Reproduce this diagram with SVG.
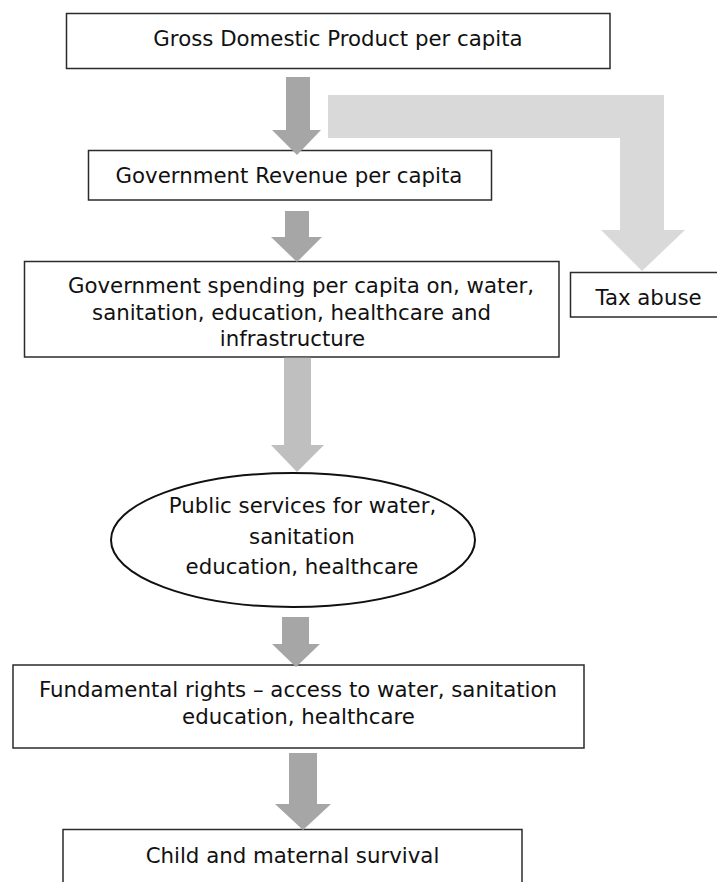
<svg xmlns="http://www.w3.org/2000/svg" width="717" height="882" viewBox="0 0 717 882">
<style>
.box{fill:#fff;stroke:#2b2b2b;stroke-width:1.5}
.t{font-family:"DejaVu Sans",Verdana,sans-serif;font-size:21.3px;fill:#111;text-anchor:middle}
.dark{fill:#a6a6a6}
.mid{fill:#bfbfbf}
.light{fill:#d9d9d9}
</style>
<rect width="717" height="882" fill="#fff"/>
<g id="gdp"><rect class="box" x="66.5" y="13.5" width="543.5" height="55"/><text class="t" x="338" y="46">Gross Domestic Product per capita</text></g>
<g id="revenue"><rect class="box" x="88.5" y="150.5" width="403" height="49.5"/><text class="t" x="289" y="183">Government Revenue per capita</text></g>
<g id="spending"><rect class="box" x="24.5" y="261.5" width="534.5" height="95.5"/><text class="t"><tspan x="301" y="293">Government spending per capita on, water,</tspan><tspan x="291.5" y="319.5">sanitation, education, healthcare and</tspan><tspan x="292.5" y="346">infrastructure</tspan></text></g>
<g id="taxabuse"><rect class="box" x="570.5" y="272.5" width="156" height="44.5"/><text class="t" x="648.5" y="305">Tax abuse</text></g>
<g id="services"><ellipse cx="293" cy="540" rx="182" ry="67" fill="#fff" stroke="#111" stroke-width="2"/><text class="t"><tspan x="302.5" y="513">Public services for water,</tspan><tspan x="302" y="543.5">sanitation</tspan><tspan x="302" y="573.5">education, healthcare</tspan></text></g>
<g id="rights"><rect class="box" x="13" y="665" width="571" height="83"/><text class="t"><tspan x="298" y="697">Fundamental rights – access to water, sanitation</tspan><tspan x="298.5" y="723.5">education, healthcare</tspan></text></g>
<g id="survival"><rect class="box" x="63" y="829.5" width="459" height="70"/><text class="t" x="292.5" y="863">Child and maternal survival</text></g>
<g id="connectors">
<polygon class="dark" points="286,77 310,77 310,130 321,130 297,155 272,130 286,130"/>
<polygon class="light" points="328,95 664,95 664,230 685,230 642,271 601,230 620,230 620,138 328,138"/>
<polygon class="dark" points="285,211 309,211 309,237 322,237 297,262 271,237 285,237"/>
<polygon class="mid" points="284,357.8 311,357.8 311,445 324,445 297,472 271,445 284,445"/>
<polygon class="dark" points="282,617 309,617 309,644 320,644 296,667 272,644 282,644"/>
<polygon class="dark" points="289,753 317,753 317,804 331,804 303,830 275,804 289,804"/>
</g>
</svg>
